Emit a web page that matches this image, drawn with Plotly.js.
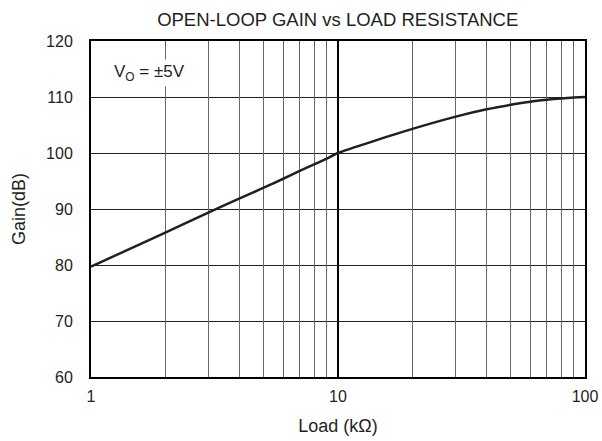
<!DOCTYPE html>
<html><head><meta charset="utf-8">
<script src="https://cdn.plot.ly/plotly-3.0.1.min.js"></script>
<style>body{margin:0;padding:0;background:#fff}#c{width:602px;height:441px}</style>
</head><body><div id="c"></div>
<script>
const loadK = [1, 2, 3, 4, 5, 6, 7, 8, 9, 10, 20, 30, 40, 50, 60, 70, 80, 90, 100];
const gainDb = [79.7, 85.8, 89.4, 91.9, 93.8, 95.4, 96.8, 97.95, 99.0, 100, 104.3, 106.5, 107.8, 108.6, 109.15, 109.5, 109.75, 109.9, 110];
const xTickVals = [1, 10, 100];
const xTickText = ['1', '10', '100'];
const xMinorGrid = [2,3,4,5,6,7,8,9,20,30,40,50,60,70,80,90];
const yTickVals = [60,70,80,90,100,110,120];
const font = 'Liberation Sans, Arial, sans-serif';

const data = [{
  x: loadK, y: gainDb, type: 'scatter', mode: 'lines',
  line: {color: '#231f20', width: 2.5, shape: 'spline', smoothing: 0.5},
  hoverinfo: 'skip', showlegend: false
}, {
  x: [10], y: [60], xaxis: 'x2', type: 'scatter', mode: 'none', showlegend: false, hoverinfo: 'skip'
}];

const layout = {
  width: 602, height: 441,
  margin: {l: 91, r: 17, t: 41, b: 64},
  paper_bgcolor: '#fff', plot_bgcolor: '#fff',
  font: {family: font, color: '#231f20', size: 16},
  title: {text: 'OPEN-LOOP GAIN vs LOAD RESISTANCE', font: {size: 18.5, family: font, color: '#231f20'},
          x: 0.561, xanchor: 'center', y: 0.955, yanchor: 'middle'},
  xaxis: {
    type: 'log', range: [0, 2],
    tickvals: xTickVals, ticktext: xTickText,
    showgrid: true, gridcolor: '#000', gridwidth: 2,
    ticks: '', ticklabelstandoff: 4,
    showline: true, linecolor: '#000', linewidth: 2, mirror: true,
    zeroline: false,
    tickfont: {size: 16},
    title: {text: 'Load (kΩ)', font: {size: 18}, standoff: 15}
  },
  xaxis2: {
    type: 'log', range: [0, 2], overlaying: 'x',
    tickvals: xMinorGrid, showticklabels: false, ticks: '',
    showgrid: true, gridcolor: '#666', gridwidth: 1, zeroline: false, showline: false
  },
  yaxis: {
    range: [60, 120], tickvals: yTickVals,
    showgrid: true, gridcolor: '#222', gridwidth: 1,
    ticks: '', ticklabelstandoff: 13,
    showline: true, linecolor: '#000', linewidth: 2, mirror: true,
    zeroline: false,
    tickfont: {size: 16},
    title: {text: 'Gain(dB)', font: {size: 18}, standoff: 16}
  },
  annotations: [{
    xref: 'paper', yref: 'paper', x: 0.119, y: 0.906, xanchor: 'center', yanchor: 'middle',
    text: 'V<sub>O</sub> = ±5V', showarrow: false,
    font: {size: 17, family: font, color: '#231f20'},
    bgcolor: '#fff', borderpad: 2
  }]
};
Plotly.newPlot('c', data, layout, {displayModeBar: false, staticPlot: true});
</script></body></html>
